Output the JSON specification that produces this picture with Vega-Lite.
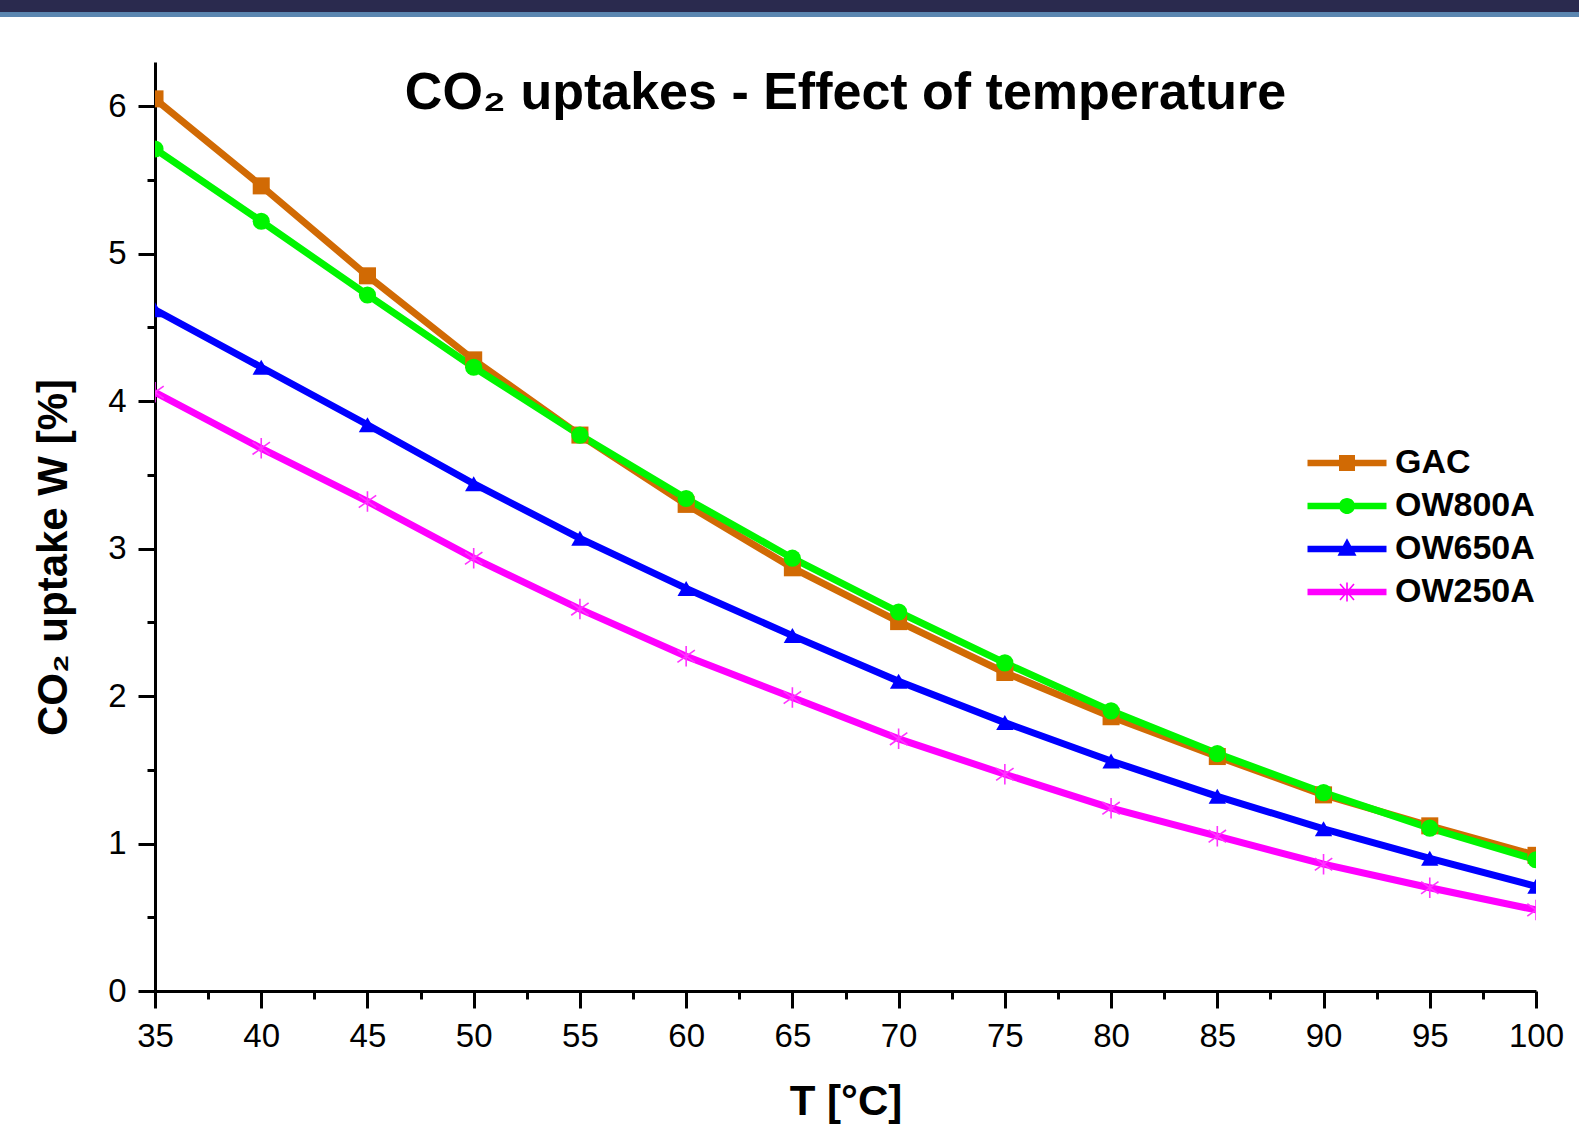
{
  "$schema": "https://vega.github.io/schema/vega-lite/v6.json",
  "width": 1381,
  "height": 929,
  "autosize": {"type": "none"},
  "padding": {"left": 155, "top": 62, "right": 43, "bottom": 134},
  "background": "white",
  "config": {
    "view": {"stroke": null},
    "font": "Liberation Sans",
    "axis": {"grid": false, "labelFont": "Liberation Sans", "titleFont": "Liberation Sans", "labelColor": "black", "titleColor": "black", "domainColor": "black", "tickColor": "black"}
  },
  "title": {
    "text": "CO₂ uptakes - Effect of temperature",
    "font": "Liberation Sans",
    "fontSize": 52,
    "fontWeight": "bold",
    "color": "black",
    "anchor": "middle",
    "frame": "group",
    "baseline": "alphabetic",
    "offset": 0,
    "dy": 161
  },
  "data": {
    "values": [
      {"series": "GAC", "T": 35, "W": 6.05},
      {"series": "GAC", "T": 40, "W": 5.46},
      {"series": "GAC", "T": 45, "W": 4.85},
      {"series": "GAC", "T": 50, "W": 4.28},
      {"series": "GAC", "T": 55, "W": 3.77},
      {"series": "GAC", "T": 60, "W": 3.30},
      {"series": "GAC", "T": 65, "W": 2.87},
      {"series": "GAC", "T": 70, "W": 2.505},
      {"series": "GAC", "T": 75, "W": 2.16},
      {"series": "GAC", "T": 80, "W": 1.86},
      {"series": "GAC", "T": 85, "W": 1.59},
      {"series": "GAC", "T": 90, "W": 1.33},
      {"series": "GAC", "T": 95, "W": 1.12},
      {"series": "GAC", "T": 100, "W": 0.92},
      {"series": "OW800A", "T": 35, "W": 5.71},
      {"series": "OW800A", "T": 40, "W": 5.22},
      {"series": "OW800A", "T": 45, "W": 4.72},
      {"series": "OW800A", "T": 50, "W": 4.23},
      {"series": "OW800A", "T": 55, "W": 3.77},
      {"series": "OW800A", "T": 60, "W": 3.34},
      {"series": "OW800A", "T": 65, "W": 2.935},
      {"series": "OW800A", "T": 70, "W": 2.57},
      {"series": "OW800A", "T": 75, "W": 2.225},
      {"series": "OW800A", "T": 80, "W": 1.90},
      {"series": "OW800A", "T": 85, "W": 1.61},
      {"series": "OW800A", "T": 90, "W": 1.345},
      {"series": "OW800A", "T": 95, "W": 1.105},
      {"series": "OW800A", "T": 100, "W": 0.89},
      {"series": "OW650A", "T": 35, "W": 4.62},
      {"series": "OW650A", "T": 40, "W": 4.23},
      {"series": "OW650A", "T": 45, "W": 3.84},
      {"series": "OW650A", "T": 50, "W": 3.44},
      {"series": "OW650A", "T": 55, "W": 3.07},
      {"series": "OW650A", "T": 60, "W": 2.73},
      {"series": "OW650A", "T": 65, "W": 2.41},
      {"series": "OW650A", "T": 70, "W": 2.10},
      {"series": "OW650A", "T": 75, "W": 1.82},
      {"series": "OW650A", "T": 80, "W": 1.56},
      {"series": "OW650A", "T": 85, "W": 1.32},
      {"series": "OW650A", "T": 90, "W": 1.10},
      {"series": "OW650A", "T": 95, "W": 0.90},
      {"series": "OW650A", "T": 100, "W": 0.71},
      {"series": "OW250A", "T": 35, "W": 4.06},
      {"series": "OW250A", "T": 40, "W": 3.68},
      {"series": "OW250A", "T": 45, "W": 3.32},
      {"series": "OW250A", "T": 50, "W": 2.935},
      {"series": "OW250A", "T": 55, "W": 2.59},
      {"series": "OW250A", "T": 60, "W": 2.27},
      {"series": "OW250A", "T": 65, "W": 1.99},
      {"series": "OW250A", "T": 70, "W": 1.71},
      {"series": "OW250A", "T": 75, "W": 1.47},
      {"series": "OW250A", "T": 80, "W": 1.24},
      {"series": "OW250A", "T": 85, "W": 1.05},
      {"series": "OW250A", "T": 90, "W": 0.86},
      {"series": "OW250A", "T": 95, "W": 0.70},
      {"series": "OW250A", "T": 100, "W": 0.55}
    ]
  },
  "resolve": {"axis": {"x": "independent", "y": "independent"}},
  "layer": [
    {
      "mark": {"type": "rect", "clip": false, "color": "#2a2a4e"},
      "encoding": {
        "x": {"datum": 27.7, "type": "quantitative", "scale": {"domain": [35, 100], "nice": false, "zero": false}, "axis": null},
        "x2": {"datum": 102.05},
        "y": {"datum": 6.72, "type": "quantitative", "scale": {"domain": [0, 6.3], "nice": false, "zero": false}, "axis": null},
        "y2": {"datum": 6.635}
      }
    },
    {
      "mark": {"type": "rect", "clip": false, "color": "#5b86b0"},
      "encoding": {
        "x": {"datum": 27.7, "type": "quantitative", "axis": null},
        "x2": {"datum": 102.05},
        "y": {"datum": 6.635, "type": "quantitative", "axis": null},
        "y2": {"datum": 6.605}
      }
    },
    {
      "mark": {"type": "line", "strokeWidth": 7, "clip": true, "strokeJoin": "round"},
      "encoding": {
        "x": {
          "field": "T", "type": "quantitative",
          "axis": {
            "orient": "bottom",
            "values": [35, 40, 45, 50, 55, 60, 65, 70, 75, 80, 85, 90, 95, 100],
            "tickSize": 17, "tickWidth": 3, "domainWidth": 3,
            "labelFontSize": 33, "labelPadding": 12, "labelFlush": false, "labelOverlap": false,
            "title": "T [°C]", "titleFontSize": 42, "titleFontWeight": "bold", "titlePadding": 28
          }
        },
        "y": {
          "field": "W", "type": "quantitative",
          "axis": {
            "orient": "left",
            "values": [0, 1, 2, 3, 4, 5, 6],
            "tickSize": 17, "tickWidth": 3, "domainWidth": 3,
            "labelFontSize": 33, "labelPadding": 12, "labelFlush": false, "labelOverlap": false,
            "title": "CO₂ uptake W [%]", "titleFontSize": 42, "titleFontWeight": "bold", "titlePadding": 32, "titleY": 495
          }
        },
        "color": {
          "field": "series", "type": "nominal",
          "scale": {"domain": ["GAC", "OW800A", "OW650A", "OW250A"], "range": ["#d16a04", "#00f500", "#0000ff", "#ff00ff"]},
          "legend": {
            "title": null,
            "orient": "none",
            "legendX": 1175,
            "legendY": 384,
            "padding": 0,
            "symbolSize": 400,
            "labelOffset": 31,
            "rowPadding": 9,
            "labelFont": "Liberation Sans",
            "labelFontSize": 34,
            "labelFontWeight": "bold",
            "labelColor": "black",
            "encode": {
              "symbols": {
                "update": {
                  "shape": {"signal": "datum.value === 'GAC' ? 'M-3.95,-0.33H3.95V0.33H-3.95Z M-0.8,-0.8H0.8V0.8H-0.8Z' : datum.value === 'OW800A' ? 'M-3.95,-0.33H3.95V0.33H-3.95Z M-0.8,0A0.8,0.8 0 1,1 0.8,0A0.8,0.8 0 1,1 -0.8,0Z' : datum.value === 'OW650A' ? 'M-3.95,-0.33H3.95V0.33H-3.95Z M0,-1.07L0.95,0.67L-0.95,0.67Z' : 'M-3.95,-0.33H3.95V0.33H-3.95Z M-0.08,-0.95H0.08V0.95H-0.08Z M-0.64,-0.853L0.76,0.747L0.64,0.853L-0.76,-0.747Z M-0.76,0.747L0.64,-0.853L0.76,-0.747L-0.64,0.853Z'"},
                  "fill": {"signal": "scale('color', datum.value)"},
                  "stroke": {"value": "transparent"},
                  "strokeWidth": {"value": 0},
                  "size": {"value": 400},
                  "opacity": {"value": 1},
                  "fillOpacity": {"value": 1}
                }
              }
            }
          }
        }
      }
    },
    {
      "transform": [{"filter": "datum.series !== 'OW250A'"}],
      "mark": {"type": "point", "filled": true, "opacity": 1, "clip": true},
      "encoding": {
        "x": {"field": "T", "type": "quantitative", "axis": null},
        "y": {"field": "W", "type": "quantitative", "axis": null},
        "color": {"field": "series", "type": "nominal", "legend": null},
        "shape": {
          "field": "series", "type": "nominal",
          "scale": {"domain": ["GAC", "OW800A", "OW650A"], "range": ["square", "circle", "triangle-up"]},
          "legend": null
        },
        "size": {
          "field": "series", "type": "nominal",
          "scale": {"domain": ["GAC", "OW800A", "OW650A"], "range": [290, 300, 400]},
          "legend": null
        }
      }
    },
    {
      "transform": [{"filter": "datum.series === 'OW250A'"}],
      "mark": {"type": "point", "filled": false, "opacity": 1, "clip": true, "strokeWidth": 1.6, "size": 420, "shape": "M0,-1V1M-0.85,-0.6L0.85,0.6M-0.85,0.6L0.85,-0.6", "color": "#ff33ff"},
      "encoding": {
        "x": {"field": "T", "type": "quantitative", "axis": null},
        "y": {"field": "W", "type": "quantitative", "axis": null}
      }
    },
    {
      "mark": {"type": "point", "opacity": 0},
      "encoding": {
        "x": {
          "field": "T", "type": "quantitative",
          "axis": {"orient": "bottom", "values": [37.5, 42.5, 47.5, 52.5, 57.5, 62.5, 67.5, 72.5, 77.5, 82.5, 87.5, 92.5, 97.5], "tickSize": 8, "tickWidth": 3, "labels": false, "domain": false, "title": null}
        },
        "y": {
          "field": "W", "type": "quantitative",
          "axis": {"orient": "left", "values": [0.5, 1.5, 2.5, 3.5, 4.5, 5.5], "tickSize": 8, "tickWidth": 3, "labels": false, "domain": false, "title": null}
        }
      }
    }
  ]
}
